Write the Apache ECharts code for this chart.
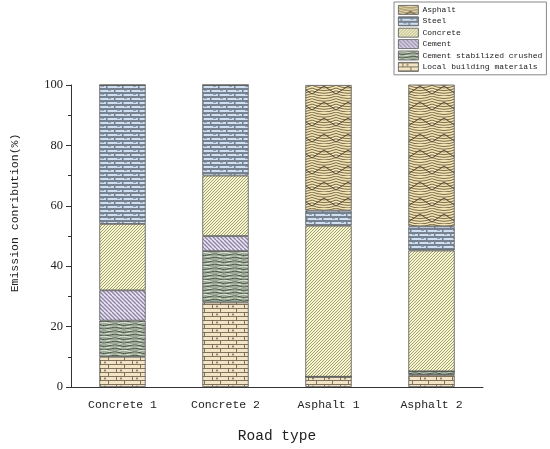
<!DOCTYPE html>
<html><head><meta charset="utf-8">
<script src="https://cdn.jsdelivr.net/npm/echarts@6/dist/echarts.min.js"></script>
<style>html,body{margin:0;padding:0;background:#fff}#c{width:550px;height:449px}</style>
</head><body><div id="c"></div>
<script>
var categories = ['Concrete 1', 'Concrete 2', 'Asphalt 1', 'Asphalt 2'];
var localMaterials = [10, 28, 3.4, 4];
var cementStabilized = [12, 17, 0, 1.2];
var cement = [10, 5, 0, 0];
var concrete = [22, 20, 50, 40];
var steel = [46, 30, 5, 8];
var asphalt = [0, 0, 41.6, 47.8];
var yTicks = [0, 20, 40, 60, 80, 100];

function mk(w, h, bg, draw) {
  var c = document.createElement('canvas'); c.width = w; c.height = h;
  var g = c.getContext('2d'); g.fillStyle = bg; g.fillRect(0, 0, w, h); draw(g);
  return {image: c, repeat: 'repeat'};
}
var pSteel = mk(16, 8, '#cfe0f2', function (g) {
  g.fillStyle = '#76828f';
  g.fillRect(0, 0, 16, 2); g.fillRect(0, 4, 16, 2);
  g.fillRect(2, 0, 1.5, 4); g.fillRect(10, 4, 1.5, 4);
  g.fillStyle = '#98a4b4'; g.fillRect(12, 2, 3, 1); g.fillRect(5, 6, 3, 1);
});
var pConcrete = mk(6, 6, '#f8f6cc', function (g) {
  g.strokeStyle = '#a0a078'; g.lineWidth = 1;
  for (var i = -6; i <= 12; i += 3) { g.beginPath(); g.moveTo(i, 6); g.lineTo(i + 6, 0); g.stroke(); }
});
var pCement = mk(8, 8, '#ece5f3', function (g) {
  g.strokeStyle = '#8c84a4'; g.lineWidth = 1.3;
  for (var i = -8; i <= 16; i += 4) { g.beginPath(); g.moveTo(i, 0); g.lineTo(i + 8, 8); g.stroke(); }
});
var pCSC = mk(20, 14, '#9eac98', function (g) {
  g.strokeStyle = '#e8eee4'; g.lineWidth = 1;
  for (var y = 1; y < 14; y += 3.5) { g.beginPath(); g.moveTo(0, y); g.bezierCurveTo(5, y - 3, 10, y + 3, 20, y); g.stroke(); }
  g.strokeStyle = '#3c4638'; g.lineWidth = 0.9;
  for (var y2 = 2.7; y2 < 14; y2 += 3.5) { g.beginPath(); g.moveTo(0, y2); g.bezierCurveTo(6, y2 + 3, 12, y2 - 3, 20, y2); g.stroke(); }
});
var pLocal = mk(16, 8, '#f2e4c4', function (g) {
  g.fillStyle = '#7e725c';
  g.fillRect(0, 0, 16, 1); g.fillRect(0, 4, 16, 1);
  g.fillRect(4, 0, 1, 4); g.fillRect(12, 4, 1, 4);
  g.beginPath(); g.arc(9, 2.5, 1, 0, 7); g.fill();
});
var pAsphalt = mk(24, 16, '#f3e4b2', function (g) {
  g.strokeStyle = '#7a6c4e'; g.lineWidth = 1;
  for (var y = 0; y < 16; y += 2.7) { g.beginPath(); g.moveTo(0, y); g.quadraticCurveTo(12, y + 5, 24, y); g.stroke(); }
  g.strokeStyle = '#4e4536'; g.lineWidth = 1;
  g.beginPath(); g.moveTo(0, 14); g.lineTo(12, 6); g.lineTo(24, 14); g.stroke();
});

var names = ['Local building materials', 'Cement stabilized crushed', 'Cement', 'Concrete', 'Steel', 'Asphalt'];
var datas = [localMaterials, cementStabilized, cement, concrete, steel, asphalt];
var pats = [pLocal, pCSC, pCement, pConcrete, pSteel, pAsphalt];
var series = names.map(function (n, i) {
  return {
    name: n, type: 'bar', stack: 'all', barWidth: '45%', data: datas[i],
    itemStyle: {color: pats[i], borderColor: '#555', borderWidth: 0.8}
  };
});

var chart = echarts.init(document.getElementById('c'));
chart.setOption({
  animation: false,
  backgroundColor: '#fff',
  grid: {left: 71, right: 67, top: 85, bottom: 61},
  legend: {
    orient: 'vertical', left: 394, top: 2, itemWidth: 20, itemHeight: 9, itemGap: 1.6,
    padding: [3, 4, 3, 4], borderColor: '#888', borderWidth: 1,
    icon: 'rect',
    data: names.slice().reverse(),
    textStyle: {fontFamily: 'Liberation Mono', fontSize: 8, color: '#222', padding: [0, 0, 0, -1]},
    itemStyle: {borderColor: '#555', borderWidth: 0.8}
  },
  xAxis: [{
    type: 'category', data: categories,
    name: 'Road type', nameLocation: 'middle', nameGap: 42,
    nameTextStyle: {fontFamily: 'Liberation Mono', fontSize: 14.5, color: '#222'},
    axisLine: {lineStyle: {color: '#333', width: 1}},
    axisTick: {alignWithLabel: true, length: 5, lineStyle: {color: '#333'}},
    axisLabel: {fontFamily: 'Liberation Mono', fontSize: 11.5, color: '#222', margin: 12}
  }, {
    type: 'category', data: categories, position: 'bottom',
    axisLine: {show: false}, axisLabel: {show: false},
    axisTick: {inside: true, length: 3, lineStyle: {color: '#333'}}
  }],
  yAxis: {
    type: 'value', min: 0, max: 100, interval: 20,
    name: 'Emission conribution(%)', nameLocation: 'middle', nameGap: 50,
    nameTextStyle: {fontFamily: 'Liberation Mono', fontSize: 11.5, color: '#222', padding: [0, 0, 0, 46]},
    axisLine: {show: true, lineStyle: {color: '#333', width: 1}},
    axisTick: {show: true, length: 5, lineStyle: {color: '#333'}},
    minorTick: {show: true, splitNumber: 2, length: 3, lineStyle: {color: '#333'}},
    splitLine: {show: false},
    axisLabel: {fontFamily: 'Liberation Serif', fontSize: 12.5, color: '#222', margin: 8}
  },
  series: series
});
</script></body></html>
